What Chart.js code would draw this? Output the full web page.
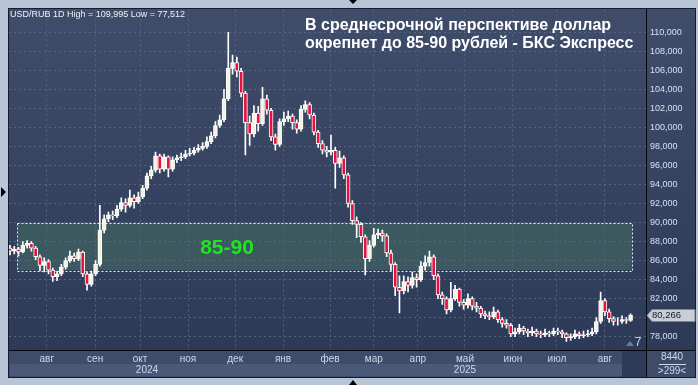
<!DOCTYPE html>
<html>
<head>
<meta charset="utf-8">
<script src="https://cdn.jsdelivr.net/npm/chart.js@4.4.1/dist/chart.umd.min.js"></script>
<style>
  html, body { margin: 0; padding: 0; background: #b8c5d6; overflow: hidden; }
  canvas { display: block; }
</style>
</head>
<body>
<canvas id="usdrub-chart" width="698" height="385"></canvas>
<script>
// USD/RUB, one candle per ~2 trading days, Jul 2024 - Aug 2025
const closes = [
  87.0, 87.2, 86.9, 87.6, 87.8, 87.3, 86.4, 85.5, 85.9, 85.0,
  84.3, 84.6, 85.3, 86.0, 86.5, 86.2, 86.9, 84.6, 83.5, 84.6,
  85.6, 89.2, 90.4, 90.8, 90.7, 91.4, 92.1, 91.8, 92.6, 92.2,
  92.7, 93.6, 94.9, 95.5, 97.0, 95.6, 96.9, 95.6, 96.6, 96.8,
  96.9, 97.2, 97.3, 97.6, 97.8, 98.0, 98.5, 99.1, 100.2, 100.8,
  103.0, 106.2, 106.8, 105.9, 103.6, 100.5, 99.3, 101.5, 100.4, 103.0,
  101.8, 99.0, 98.2, 100.6, 100.9, 101.2, 100.5, 99.8, 101.9, 102.4,
  101.3, 99.5, 98.3, 97.6, 97.4, 97.6, 96.2, 96.8, 95.0, 92.0,
  90.2, 89.8, 88.5, 86.2, 87.6, 88.7, 88.9, 88.6, 86.8, 85.6,
  83.2, 82.8, 83.8, 83.4, 84.2, 84.0, 85.4, 85.8, 86.4, 84.4,
  82.4, 82.0, 80.8, 82.0, 83.0, 81.6, 81.3, 82.0, 81.2, 81.0,
  80.4, 80.2, 80.1, 80.6, 79.8, 79.4, 79.2, 78.3, 78.5, 78.9,
  78.6, 78.4, 78.6, 78.3, 78.2, 78.4, 78.3, 78.6, 78.5, 78.3,
  77.9, 78.0, 78.3, 78.1, 78.2, 78.3, 78.5, 79.6, 81.8, 80.6,
  79.9, 79.6, 79.6, 79.8, 79.7, 80.266
];
const highs = [
  87.6, 87.5, 87.4, 88.0, 88.1, 88.0, 87.5, 86.6, 86.3, 86.1,
  85.2, 84.9, 85.6, 86.3, 87.0, 86.8, 87.2, 87.0, 84.8, 84.9,
  86.0, 91.8, 90.8, 91.1, 91.2, 91.8, 92.6, 92.5, 93.4, 92.9,
  93.2, 93.9, 95.2, 95.9, 97.4, 97.2, 97.2, 97.0, 96.9, 97.1,
  97.3, 97.6, 97.8, 97.9, 98.2, 98.4, 99.0, 99.5, 100.6, 101.3,
  104.0, 109.995, 107.6, 107.4, 106.2, 103.8, 101.2, 102.3, 102.2, 104.2,
  103.4, 102.0, 99.3, 100.9, 101.6, 101.7, 101.4, 100.8, 102.3, 102.8,
  102.6, 101.5, 99.7, 98.6, 98.0, 99.2, 97.9, 97.5, 97.0, 95.2,
  92.3, 90.6, 90.0, 88.7, 88.1, 89.4, 89.3, 89.2, 88.8, 87.1,
  85.8, 84.4, 84.4, 84.3, 84.8, 84.6, 85.9, 86.5, 87.0, 86.6,
  84.6, 82.7, 82.2, 83.7, 83.4, 83.1, 81.9, 82.5, 82.2, 81.6,
  81.2, 80.7, 80.6, 81.1, 80.8, 80.0, 79.8, 79.4, 78.9, 79.3,
  79.1, 78.8, 79.0, 78.8, 78.6, 78.8, 78.6, 78.9, 78.9, 78.7,
  78.4, 78.3, 78.7, 78.5, 78.6, 78.7, 78.9, 80.0, 82.7, 82.0,
  80.9, 80.1, 80.0, 80.2, 80.0, 80.4
];
const lows = [
  86.6, 86.7, 86.5, 86.8, 87.3, 87.0, 86.1, 84.9, 84.8, 84.6,
  83.8, 83.9, 84.4, 85.1, 85.8, 85.9, 86.0, 84.3, 82.9, 83.3,
  84.4, 85.4, 88.9, 90.1, 90.3, 90.5, 91.2, 91.1, 91.6, 91.5,
  92.0, 92.5, 93.4, 94.6, 95.3, 95.2, 95.4, 94.8, 95.4, 96.3,
  96.5, 96.7, 97.0, 97.1, 97.4, 97.6, 97.8, 98.3, 98.9, 100.0,
  100.6, 102.8, 105.6, 105.3, 103.2, 97.1, 98.1, 99.0, 99.6, 100.2,
  101.4, 98.6, 97.6, 98.0, 100.2, 100.6, 99.8, 99.4, 99.6, 101.6,
  100.9, 99.2, 97.9, 97.2, 96.9, 97.1, 93.6, 95.8, 94.6, 91.6,
  89.8, 88.4, 87.9, 84.5, 85.9, 87.4, 88.3, 88.0, 86.4, 84.9,
  82.3, 80.5, 82.5, 82.7, 83.1, 83.2, 83.8, 85.0, 85.4, 84.0,
  82.0, 81.4, 80.4, 80.6, 81.8, 81.2, 80.9, 81.0, 80.8, 80.6,
  80.0, 79.9, 79.8, 79.9, 79.5, 79.0, 78.9, 78.0, 78.0, 78.3,
  78.2, 78.0, 78.1, 78.0, 77.9, 78.0, 78.0, 78.1, 78.2, 77.9,
  77.512, 77.6, 77.8, 77.8, 77.9, 78.0, 78.1, 78.3, 79.4, 80.2,
  79.5, 79.2, 79.2, 79.4, 79.4, 79.6
];
const firstOpen = 87.3;

const monthTicks = [8.6, 19.9, 30.4, 41.6, 52.6, 63.8, 74.8, 85.0, 95.3, 106.3, 117.5, 127.8, 139.0];
const monthLabels = ["авг", "сен", "окт", "ноя", "дек", "янв", "фев", "мар", "апр", "май", "июн", "июл", "авг"];
const yearLabels = ["2024", "2025"];
const yearCenters = [32.0, 106.3];
const yearEdges = [0, 63.8, 143.0];
const priceTicks = [78, 80, 82, 84, 86, 88, 90, 92, 94, 96, 98, 100, 102, 104, 106, 108, 110];

const targetBand = [85, 90];
const bandSpan = [1.7, 145.3];
const bandLabel = "85-90";
const lastPrice = 80.266;
const headerText = "USD/RUB 1D High = 109,995 Low = 77,512";
const titleLines = ["В среднесрочной перспективе доллар", "окрепнет до 85-90 рублей - БКС Экспресс"];

const bodies = closes.map((c, i) => ({ x: i, y: [i ? closes[i - 1] : firstOpen, c] }));
const wicks = lows.map((l, i) => ({ x: i, y: [l, highs[i]] }));
const bodyColors = bodies.map((p) => (p.y[1] < p.y[0] ? "#e3123e" : "#f3f3e2"));

const FONT = "'Liberation Sans', Arial, sans-serif";
Chart.defaults.font.family = FONT;

function fmt(v) {
  return v.toFixed(3).replace(".", ",");
}

const terminalDecor = {
  id: "terminalDecor",
  beforeDraw(chart) {
    const { ctx, chartArea: a, scales } = chart;
    const x = scales.x, y = scales.y;
    ctx.save();
    ctx.fillStyle = "#b8c5d6";
    ctx.fillRect(0, 0, chart.width, chart.height);

    let g = ctx.createLinearGradient(0, 8, 0, 377);
    g.addColorStop(0, "#3f4d6a");
    g.addColorStop(1, "#2b3856");
    ctx.fillStyle = g;
    ctx.fillRect(8, 8, 688, 370);

    // bottom time strip
    ctx.fillStyle = "#3e4c69";
    ctx.fillRect(8, a.bottom, 688, 377 - a.bottom);
    ctx.fillStyle = "#4a5977";
    for (let k = 0; k < yearLabels.length; k++) {
      let x0 = x.getPixelForValue(yearEdges[k]);
      let x1 = x.getPixelForValue(yearEdges[k + 1]);
      ctx.fillRect(x0, 364, x1 - x0, 12);
    }
    let xe = x.getPixelForValue(yearEdges[yearEdges.length - 1]);
    ctx.fillStyle = "#2d3a58";
    ctx.fillRect(xe, a.bottom + 1, a.right - xe, 377 - a.bottom - 1);

    // target zone
    let bx0 = x.getPixelForValue(bandSpan[0]);
    let bx1 = x.getPixelForValue(bandSpan[1]);
    let by0 = y.getPixelForValue(targetBand[1]);
    let by1 = y.getPixelForValue(targetBand[0]);
    ctx.fillStyle = "#3c5960";
    ctx.fillRect(bx0, by0, bx1 - bx0, by1 - by0);
    ctx.setLineDash([2, 2]);
    ctx.strokeStyle = "#e8ecf0";
    ctx.lineWidth = 1;
    ctx.strokeRect(Math.round(bx0) + 0.5, Math.round(by0) + 0.5, Math.round(bx1 - bx0), Math.round(by1 - by0));
    ctx.setLineDash([]);
    ctx.restore();
  },
  afterDraw(chart) {
    const { ctx, chartArea: a, scales } = chart;
    const x = scales.x, y = scales.y;
    ctx.save();

    ctx.font = "bold 21px " + FONT;
    ctx.fillStyle = "#1ee51e";
    ctx.textAlign = "center";
    ctx.textBaseline = "middle";
    ctx.fillText(bandLabel, x.getPixelForValue(50.7), y.getPixelForValue((targetBand[0] + targetBand[1]) / 2) + 2);

    // axis lines and panel border
    ctx.strokeStyle = "#05080e";
    ctx.lineWidth = 1;
    ctx.beginPath();
    ctx.moveTo(a.right + 0.5, 8);
    ctx.lineTo(a.right + 0.5, 377);
    ctx.moveTo(8, a.bottom + 0.5);
    ctx.lineTo(695, a.bottom + 0.5);
    ctx.stroke();
    ctx.strokeStyle = "#141c2c";
    ctx.strokeRect(8.5, 8.5, 687, 369);

    // header texts
    ctx.textAlign = "left";
    ctx.textBaseline = "middle";
    ctx.font = "9px " + FONT;
    ctx.fillStyle = "#eef2f8";
    ctx.fillText(headerText, 10, 15);
    ctx.font = "bold 16px " + FONT;
    ctx.fillStyle = "#ffffff";
    ctx.textBaseline = "alphabetic";
    ctx.fillText(titleLines[0], 305, 30);
    ctx.fillText(titleLines[1], 305, 48);

    // year row
    ctx.font = "10px " + FONT;
    ctx.fillStyle = "#cdd8ea";
    ctx.textAlign = "center";
    ctx.textBaseline = "middle";
    yearLabels.forEach((t, k) => ctx.fillText(t, x.getPixelForValue(yearCenters[k]), 370.5));

    // bottom right cell
    ctx.font = "10px " + FONT;
    ctx.fillText("8440", 672, 357);
    ctx.fillText(">299<", 672, 371);
    ctx.strokeStyle = "#cdd8ea";
    ctx.beginPath();
    ctx.moveTo(659, 364.5);
    ctx.lineTo(686, 364.5);
    ctx.stroke();

    // bar counter marker
    ctx.fillStyle = "#6f7e98";
    ctx.beginPath();
    ctx.moveTo(626, 346);
    ctx.lineTo(630, 341);
    ctx.lineTo(634, 346);
    ctx.closePath();
    ctx.fill();
    ctx.font = "12px " + FONT;
    ctx.fillStyle = "#b6d2f4";
    ctx.fillText("7", 638, 343);

    // last price tag
    let yy = Math.round(y.getPixelForValue(lastPrice)) + 0.5;
    ctx.beginPath();
    ctx.moveTo(a.right + 1, yy);
    ctx.lineTo(a.right + 6, yy - 6);
    ctx.lineTo(695, yy - 6);
    ctx.lineTo(695, yy + 6);
    ctx.lineTo(a.right + 6, yy + 6);
    ctx.closePath();
    ctx.fillStyle = "#c9cdd4";
    ctx.fill();
    ctx.strokeStyle = "#7c8698";
    ctx.stroke();
    ctx.font = "9.5px " + FONT;
    ctx.fillStyle = "#0f1a30";
    ctx.textAlign = "left";
    ctx.fillText(fmt(lastPrice), a.right + 6, yy);

    // frame arrows
    ctx.fillStyle = "#000000";
    ctx.beginPath();
    ctx.moveTo(1, 187); ctx.lineTo(6, 192); ctx.lineTo(1, 197); ctx.closePath();
    ctx.moveTo(349, 0); ctx.lineTo(357, 0); ctx.lineTo(353, 4); ctx.closePath();
    ctx.moveTo(349, 385); ctx.lineTo(357, 385); ctx.lineTo(353, 380); ctx.closePath();
    ctx.fill();
    ctx.restore();
  }
};

const ctx = document.getElementById("usdrub-chart").getContext("2d");
const usdRubChart = new Chart(ctx, {
  type: "bar",
  data: {
    datasets: [
      {
        label: "body",
        data: bodies,
        backgroundColor: bodyColors,
        borderColor: "#ffffff",
        borderWidth: 1,
        borderSkipped: false,
        barThickness: 4,
        grouped: false,
        order: 0,
      },
      {
        label: "wick",
        data: wicks,
        backgroundColor: "#ffffff",
        borderWidth: 0,
        barThickness: 1,
        grouped: false,
        order: 1,
      },
    ],
  },
  options: {
    responsive: false,
    animation: false,
    devicePixelRatio: 1,
    layout: { autoPadding: false, padding: { left: 9, top: 9, right: 3, bottom: 8 } },
    plugins: { legend: { display: false }, tooltip: { enabled: false } },
    scales: {
      x: {
        type: "linear",
        offset: false,
        min: -0.23,
        max: 148.6,
        afterBuildTicks: (s) => { s.ticks = monthTicks.map((v) => ({ value: v })); },
        afterFit: (s) => { s.height = 27; },
        grid: { color: "#56647f", drawTicks: false, offset: false },
        border: { display: false, dash: [2, 3] },
        ticks: {
          autoSkip: false,
          maxRotation: 0,
          padding: 3,
          color: "#cdd8ea",
          font: { size: 10 },
          callback: (v, i) => monthLabels[i],
        },
      },
      y: {
        position: "right",
        min: 76.6,
        max: 112.4,
        afterBuildTicks: (s) => { s.ticks = priceTicks.map((v) => ({ value: v })); },
        afterFit: (s) => { s.width = 49; },
        grid: { color: "#56647f", drawTicks: false },
        border: { display: false, dash: [2, 3] },
        ticks: {
          padding: 4,
          color: "#d4e0f2",
          font: { size: 9 },
          callback: (v) => fmt(v),
        },
      },
    },
  },
  plugins: [terminalDecor],
});
</script>
</body>
</html>
